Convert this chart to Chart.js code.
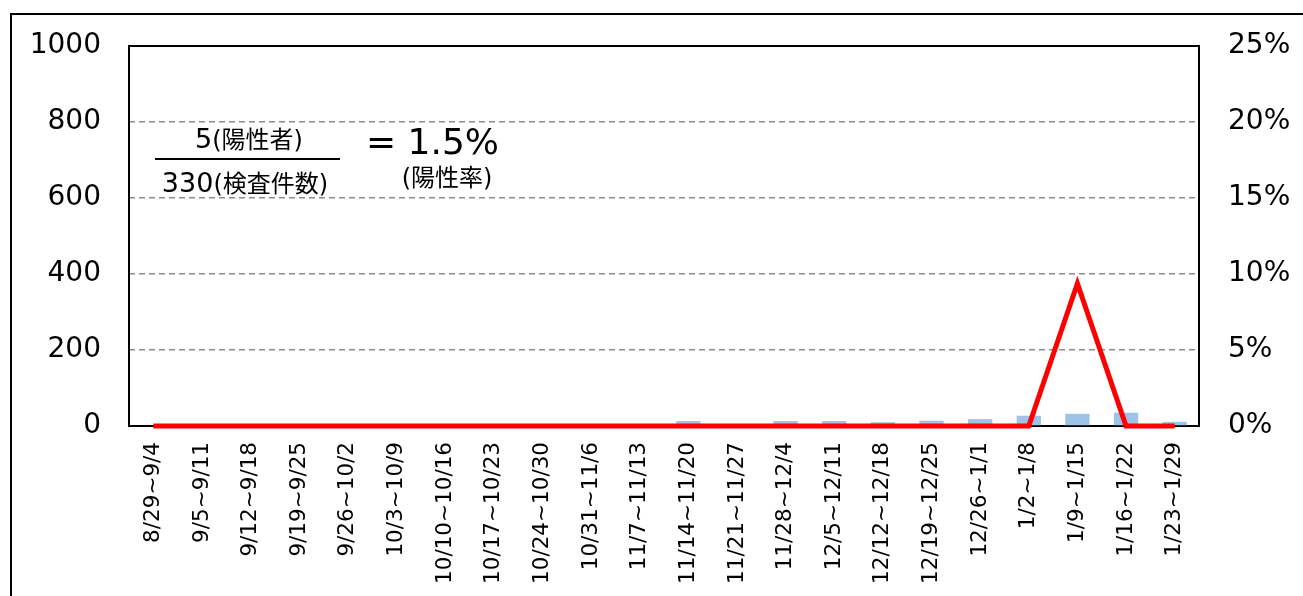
<!DOCTYPE html>
<html>
<head>
<meta charset="utf-8">
<script src="https://cdn.jsdelivr.net/npm/chart.js@4"></script>
<style>
  html, body { margin: 0; padding: 0; background: #fff; overflow: hidden; }
  #frame { position: absolute; left: 10px; top: 13px; width: 1400px; height: 700px; border: 2px solid #000; }
  #wrap { position: absolute; left: 0; top: 0; width: 1303px; height: 596px; }
</style>
</head>
<body>
<div id="frame"></div>
<div id="wrap"><canvas id="c" width="1303" height="596"></canvas></div>
<script>
// weekly tests (bars, left axis) and positive rate % (line, right axis)
var weeks = ['8/29~9/4', '9/5~9/11', '9/12~9/18', '9/19~9/25', '9/26~10/2', '10/3~10/9',
  '10/10~10/16', '10/17~10/23', '10/24~10/30', '10/31~11/6', '11/7~11/13', '11/14~11/20',
  '11/21~11/27', '11/28~12/4', '12/5~12/11', '12/12~12/18', '12/19~12/25', '12/26~1/1',
  '1/2~1/8', '1/9~1/15', '1/16~1/22', '1/23~1/29'];
var tests = [0, 0, 0, 0, 0, 0, 0, 0, 0, 0, 0, 13, 0, 13, 13, 10, 14, 18, 27, 32, 35, 11];
var positiveRate = [0, 0, 0, 0, 0, 0, 0, 0, 0, 0, 0, 0, 0, 0, 0, 0, 0, 0, 0, 9.375, 0, 0];
var countMax = 1000, countStep = 200;
var rateMax = 25, rateStep = 5;

var FONT = '"DejaVu Sans", Verdana, "Noto Sans CJK JP", sans-serif';

// frame round the plot area + the ratio note in the upper left
var decor = {
  id: 'decor',
  beforeDatasetsDraw: function (chart) {
    var a = chart.chartArea, ctx = chart.ctx;
    ctx.save();
    ctx.strokeStyle = '#000';
    ctx.lineWidth = 2;
    ctx.strokeRect(a.left, a.top, a.right - a.left, a.bottom - a.top);
    ctx.restore();
  },
  afterDraw: function (chart) {
    var ctx = chart.ctx;
    ctx.save();
    ctx.fillStyle = '#000';
    ctx.textBaseline = 'alphabetic';

    function pair(big, bigSize, small, smallSize, cx, y) {
      ctx.font = bigSize + 'px ' + FONT;
      var w1 = ctx.measureText(big).width;
      ctx.font = smallSize + 'px ' + FONT;
      var w2 = ctx.measureText(small).width;
      var x = cx - (w1 + w2) / 2;
      ctx.textAlign = 'left';
      ctx.font = bigSize + 'px ' + FONT;
      ctx.fillText(big, x, y);
      ctx.font = smallSize + 'px ' + FONT;
      ctx.fillText(small, x + w1, y);
    }
    pair('5', 27, '(陽性者)', 24, 249, 148);
    pair('330', 27, '(検査件数)', 24, 245, 192);

    ctx.fillRect(155, 158, 185, 2);

    ctx.textAlign = 'left';
    ctx.font = '36px ' + FONT;
    ctx.fillText('= 1.5%', 366, 154);
    ctx.textAlign = 'center';
    ctx.font = '24px ' + FONT;
    ctx.fillText('(陽性率)', 447, 186);
    ctx.restore();
  }
};

new Chart(document.getElementById('c'), {
  type: 'bar',
  data: {
    labels: weeks,
    datasets: [{
      type: 'line',
      data: positiveRate,
      yAxisID: 'y1',
      borderColor: '#ff0000',
      borderWidth: 5,
      pointRadius: 0,
      tension: 0,
      clip: false,
      order: 0
    }, {
      type: 'bar',
      data: tests,
      yAxisID: 'y',
      backgroundColor: '#9dc3e6',
      categoryPercentage: 1,
      barPercentage: 0.5,
      order: 1
    }]
  },
  options: {
    responsive: false,
    animation: false,
    layout: { padding: { top: 46, left: 0, right: 0, bottom: 0 } },
    plugins: { legend: { display: false }, tooltip: { enabled: false } },
    scales: {
      x: {
        grid: { display: false },
        border: { display: false },
        ticks: {
          color: '#000', autoSkip: false, maxRotation: 90, minRotation: 90, padding: 8,
          font: { family: FONT, size: 21.5 }
        },
        afterFit: function (s) { s.height = 170; }
      },
      y: {
        position: 'left', min: 0, max: countMax,
        grid: {
          drawTicks: false, lineWidth: 1.5,
          color: function (c) { return (c.tick.value === 0 || c.tick.value === countMax) ? 'rgba(0,0,0,0)' : '#8c8c8c'; }
        },
        border: { display: false, dash: [6, 4] },
        ticks: {
          stepSize: countStep, color: '#000', padding: 28, font: { family: FONT, size: 28 },
          callback: function (v) { return String(v); }
        },
        afterFit: function (s) { s.width = 129; }
      },
      y1: {
        position: 'right', min: 0, max: rateMax,
        grid: { display: false, drawTicks: false },
        border: { display: false },
        ticks: {
          stepSize: rateStep, color: '#000', padding: 29, font: { family: FONT, size: 28 },
          callback: function (v) { return v + '%'; }
        },
        afterFit: function (s) { s.width = 104; }
      }
    }
  },
  plugins: [decor]
});
</script>
</body>
</html>
